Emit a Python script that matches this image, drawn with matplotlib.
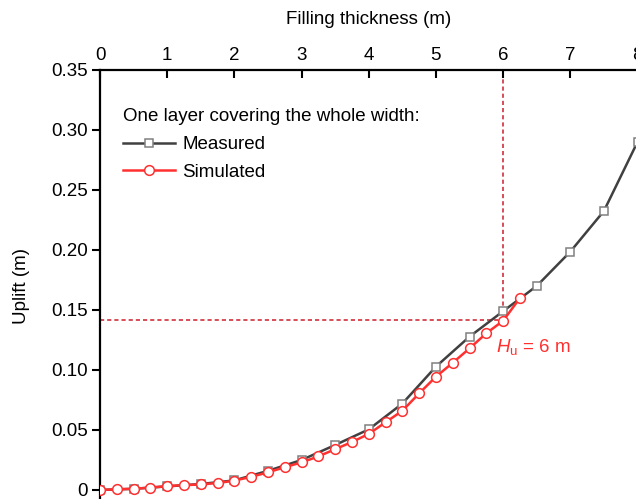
import matplotlib
matplotlib.use('Agg')
import matplotlib.pyplot as plt

plt.rcParams['font.family'] = ['Liberation Sans', 'DejaVu Sans']
plt.rcParams['mathtext.fontset'] = 'custom'
plt.rcParams['mathtext.rm'] = 'Liberation Sans'
plt.rcParams['mathtext.it'] = 'Liberation Sans:italic'

#------------------------------------------------------------------------
# Data
#------------------------------------------------------------------------
meas_x = [0, 0.5, 1.0, 1.5, 2.0, 2.5, 3.0, 3.5, 4.0, 4.5,
          5.0, 5.5, 6.0, 6.5, 7.0, 7.5, 8.0]
meas_y = [0, 0.001, 0.003, 0.005, 0.008, 0.016, 0.025, 0.0375, 0.0505, 0.072,
          0.1028, 0.1278, 0.149, 0.170, 0.1986, 0.2325, 0.290]

sim_x = [0, 0.25, 0.5, 0.75, 1.0, 1.25, 1.5, 1.75, 2.0, 2.25, 2.5, 2.75, 3.0,
         3.25, 3.5, 3.75, 4.0, 4.25, 4.5, 4.75, 5.0, 5.25, 5.5, 5.75, 6.0, 6.25]
sim_y = [0, 0.0006, 0.001, 0.002, 0.0033, 0.004, 0.0047, 0.0058, 0.0078,
         0.011, 0.0147, 0.019, 0.023, 0.028, 0.034, 0.040, 0.0467, 0.0564,
         0.066, 0.0805, 0.0944, 0.106, 0.118, 0.1306, 0.141, 0.160]

hu_x = 6.0
hu_y = 0.142

x_ticks = [0, 1, 2, 3, 4, 5, 6, 7, 8]
y_ticks = [0, 0.05, 0.10, 0.15, 0.20, 0.25, 0.30, 0.35]
y_tick_labels = ['0', '0.05', '0.10', '0.15', '0.20', '0.25', '0.30', '0.35']

FS = 13.5

#------------------------------------------------------------------------
fig = plt.figure(figsize=(6.36, 4.99), dpi=100)
ax = fig.add_axes([100/636, -3/499, 537.5/636, 432/499])

ax.set_xlim(0, 8)
ax.set_ylim(-0.01, 0.35)

# guide lines for H_u
dash_col = '#d0303c'
ax.plot([0, hu_x], [hu_y, hu_y], color=dash_col, lw=1.2,
        ls=(0, (2.5, 1.8)), zorder=1)
ax.plot([hu_x, hu_x], [hu_y, 0.35], color=dash_col, lw=1.2,
        ls=(0, (2.5, 1.8)), zorder=1)

ax.plot(meas_x, meas_y, color='#404040', lw=1.8, marker='s', ms=6,
        mfc='white', mec='#808080', mew=1.1, label='Measured', zorder=3)
ax.plot(sim_x, sim_y, color='#ff3030', lw=1.8, marker='o', ms=7,
        mfc='white', mec='#ff3030', mew=1.1, label='Simulated', zorder=4)

ax.text(5.89, 0.115, r'$H_\mathrm{u}$ = 6 m', color='#ff3030',
        fontsize=FS, va='baseline', ha='left')

#----------------------------
# Axes styling
#----------------------------
ax.xaxis.set_ticks_position('top')
ax.xaxis.set_label_position('top')
ax.set_xticks(x_ticks)
ax.set_yticks(y_ticks)
ax.set_yticklabels(y_tick_labels)
ax.tick_params(axis='x', direction='in', length=6, width=1.5,
               labelsize=FS, pad=4)
ax.tick_params(axis='y', direction='out', length=6, width=1.5,
               labelsize=FS, pad=3)
for side in ['right', 'bottom']:
    ax.spines[side].set_visible(False)
for side in ['top', 'left']:
    ax.spines[side].set_linewidth(1.6)

ax.set_xlabel('Filling thickness (m)', fontsize=FS, labelpad=17)
ax.set_ylabel('Uplift (m)', fontsize=FS, labelpad=15)

leg = ax.legend(loc='upper left', bbox_to_anchor=(0.043, 0.912),
                title='One layer covering the whole width:',
                title_fontsize=FS, fontsize=FS, frameon=False,
                alignment='left', handlelength=2.75, handletextpad=0.4,
                labelspacing=0.55, borderpad=0, borderaxespad=0)
leg._legend_box.sep = 8

fig.savefig('out.png', dpi=100)
plt.close()
